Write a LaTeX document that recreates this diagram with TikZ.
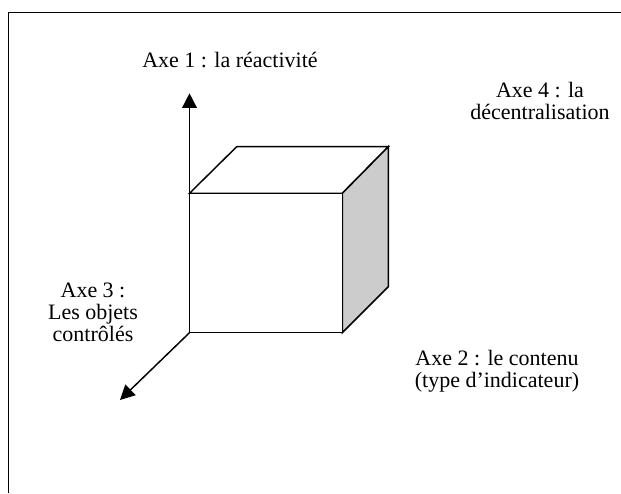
\documentclass[tikz,border=0pt]{standalone}
\usepackage{fontspec}
\setmainfont{Liberation Serif}
\usetikzlibrary{arrows.meta}

\begin{document}
\begin{tikzpicture}[x=0.75pt,y=0.75pt,
            line width=1.1pt,
            axe/.style={-{Triangle[length=11pt,width=11pt]}},
            legende/.style={align=center,font=\fontsize{16.5}{16.5}\selectfont}]

            \useasboundingbox (0,0) rectangle (621,493);

            % cadre
            \draw[line width=1.2pt] (8.5,0) -- (8.5,480.5) -- (621,480.5);

            % sommets du cube
            \coordinate (A) at (189.5,299.7);
            \coordinate (B) at (342.3,299.7);
            \coordinate (C) at (342.3,160.3);
            \coordinate (D) at (189.5,160.3);
            \coordinate (E) at (236.7,346.3);
            \coordinate (F) at (388.3,346.3);
            \coordinate (G) at (388.3,206.3);

            % faces
            \draw[fill=white] (A) -- (E) -- (F) -- (B) -- cycle;
            \draw[fill=black!20] (B) -- (F) -- (G) -- (C) -- cycle;
            \draw[fill=white] (A) rectangle (C);

            % axes
            \coordinate (haut) at (189.5,399.7);
            \coordinate (bas) at (120,93);
            \draw[axe] (A) -- (haut);
            \draw[axe] (D) -- (bas);

            \node[legende] (axe1) at (230,433) {Axe 1 : la réactivité};
            \node[legende] (axe4) at (540,392) {Axe 4 : la\\décentralisation};
            \node[legende] (axe2) at (497,122) {Axe 2 : le contenu\\(type d’indicateur)};
            \node[legende] (axe3) at (93,181) {Axe 3 :\\Les objets\\contrôlés};
        \end{tikzpicture}
\end{document}
